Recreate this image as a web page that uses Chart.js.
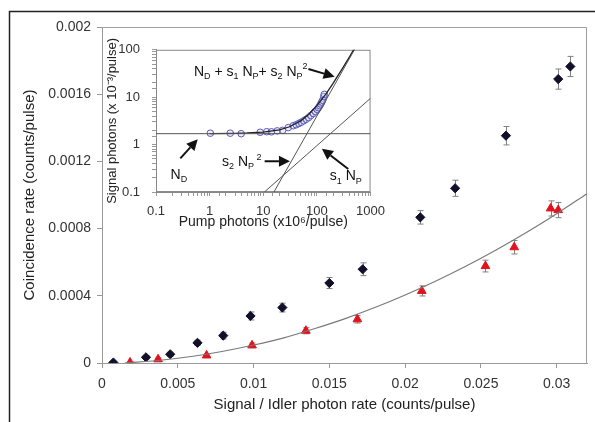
<!DOCTYPE html>
<html><head><meta charset="utf-8">
<script src="https://cdn.jsdelivr.net/npm/chart.js@4/dist/chart.umd.min.js"></script>
<style>
html,body{margin:0;padding:0;background:#fff;}
#wrap{position:relative;width:595px;height:422px;overflow:hidden;}
#main{position:absolute;left:0;top:0;}
#inset{position:absolute;left:103px;top:30px;}
</style></head>
<body><div id="wrap"><canvas id="main" width="595" height="422"></canvas><canvas id="inset" width="290" height="205"></canvas></div>
<script>
// ---------- main chart data ----------
const blackX = [0.00075, 0.0029, 0.0045, 0.0063, 0.0080, 0.0098, 0.0119, 0.0150, 0.0172, 0.0210, 0.0233, 0.02665, 0.0301, 0.0309];
const blackY = [0.000003, 0.000034, 0.000052, 0.000120, 0.000163, 0.000280, 0.000330, 0.000476, 0.000558, 0.000867, 0.00104, 0.001353, 0.00169, 0.001765];
const blackErr = [0.000008, 0.00001, 0.000012, 0.000016, 0.00002, 0.000024, 0.000026, 0.000033, 0.000038, 0.00004, 0.000048, 0.000055, 0.00006, 0.00006];
const redX = [0.00185, 0.0037, 0.0069, 0.0099, 0.01345, 0.01685, 0.0211, 0.0253, 0.0272, 0.0296, 0.0301];
const redY = [0.000003, 0.000022, 0.000045, 0.000105, 0.000192, 0.000260, 0.000429, 0.000577, 0.000689, 0.00092, 0.00091];
const redErr = [0.000005, 0.000008, 0.00001, 0.000014, 0.000018, 0.000022, 0.00003, 0.000035, 0.00004, 0.000045, 0.000045];
const fitX = [0.0015, 0.004, 0.006, 0.008, 0.010, 0.012, 0.014, 0.016, 0.018, 0.020, 0.022, 0.024, 0.026, 0.028, 0.030, 0.032, 0.0322];
const fitY = [0, 0.000018, 0.00004, 0.00007, 0.000107, 0.00015, 0.000204, 0.000263, 0.00033, 0.000405, 0.000487, 0.000576, 0.000673, 0.000777, 0.000889, 0.001008, 0.00102];
const xTickVals = [0, 0.005, 0.01, 0.015, 0.02, 0.025, 0.03];
const xTickLabels = ['0', '0.005', '0.01', '0.015', '0.02', '0.025', '0.03'];
const yTickVals = [0, 0.0004, 0.0008, 0.0012, 0.0016, 0.002];
const yTickLabels = ['0', '0.0004', '0.0008', '0.0012', '0.0016', '0.002'];

// ---------- inset data ----------
const insetNp = [1.03, 2.42, 3.87, 8.75, 11.6, 14.2, 18.2, 23, 29.2, 36.3, 41, 46, 51, 56.6, 63, 69.7, 77, 85.8, 93, 101, 107, 113, 118, 123, 128, 134, 137.5];
const insetSig = [1.74, 1.74, 1.70, 1.82, 1.87, 1.86, 1.95, 2.0, 2.28, 2.5, 2.62, 2.79, 2.95, 3.17, 3.42, 3.7, 4.1, 4.54, 5.0, 5.5, 6.0, 6.6, 7.2, 7.9, 8.6, 10.3, 11.5];
const totalNp = [1, 3, 5, 10, 20, 30, 50, 70, 100, 150, 200, 300, 400, 480, 520];
const totalSig = [1.71, 1.73, 1.76, 1.84, 2.05, 2.35, 3.17, 4.33, 6.65, 12.1, 19.6, 40.6, 69.5, 98.4, 114];
const ndNp = [0.1, 1000];
const ndSig = [1.7, 1.7];
const s1Np = [10.5, 1000];
const s1Sig = [0.1, 9.5];
const s2Np = [15.8, 520];
const s2Sig = [0.1, 108];
const insetXLabels = {'0.1':'0.1', '1':'1', '10':'10', '100':'100', '1000':'1000'};
const insetYLabels = {'0.1':'0.1', '1':'1', '10':'10', '100':'100'};

const FONT = '"Liberation Sans", Arial, Helvetica, sans-serif';
Chart.defaults.font.family = FONT;
const pts = (xs, ys) => xs.map((x, i) => ({x: x, y: ys[i]}));

const framePlugin = {
  id: 'frame',
  beforeDraw(chart) {
    const c = chart.ctx;
    c.save();
    c.fillStyle = '#fff';
    c.fillRect(0, 0, chart.width, chart.height);
    c.strokeStyle = '#222';
    c.lineWidth = 1.5;
    c.beginPath();
    c.moveTo(9.5, chart.height);
    c.lineTo(9.5, 11.5);
    c.lineTo(chart.width, 11.5);
    c.stroke();
    c.restore();
  },
  beforeDatasetsDraw(chart) {
    const a = chart.chartArea, c = chart.ctx;
    c.save();
    c.strokeStyle = '#a0a0a0';
    c.lineWidth = 1;
    c.beginPath();
    c.moveTo(a.left, a.top + 0.5);
    c.lineTo(a.right - 0.5, a.top + 0.5);
    c.lineTo(a.right - 0.5, a.bottom);
    c.stroke();
    c.restore();
  }
};

const errPlugin = {
  id: 'errbars',
  beforeDatasetsDraw(chart) {
    const c = chart.ctx, ys = chart.scales.y;
    c.save();
    c.strokeStyle = '#808080';
    c.lineWidth = 1;
    chart.data.datasets.forEach((ds, i) => {
      if (!ds.errors) return;
      const meta = chart.getDatasetMeta(i);
      meta.data.forEach((el, j) => {
        const v = ds.data[j].y, e = ds.errors[j];
        const x = Math.round(el.x) + 0.5;
        const y1 = ys.getPixelForValue(v + e), y2 = ys.getPixelForValue(Math.max(v - e, 0));
        c.beginPath();
        c.moveTo(x, y1); c.lineTo(x, y2);
        c.moveTo(x - 3, y1); c.lineTo(x + 3, y1);
        c.moveTo(x - 3, y2); c.lineTo(x + 3, y2);
        c.stroke();
      });
    });
    c.restore();
  }
};

new Chart(document.getElementById('main'), {
  type: 'scatter',
  data: {datasets: [
    {label: 'fit', data: pts(fitX, fitY), showLine: true, pointRadius: 0, borderColor: '#7a7a7a', borderWidth: 1.2, tension: 0.3},
    {label: 'Coincidence (total)', data: pts(blackX, blackY), errors: blackErr, pointStyle: 'rectRot', pointRadius: 4.6, backgroundColor: '#10102a', borderColor: '#10102a', borderWidth: 1},
    {label: 'Coincidence (corrected)', data: pts(redX, redY), errors: redErr, pointStyle: 'triangle', pointRadius: 5, backgroundColor: '#e3121b', borderColor: '#e3121b', borderWidth: 1}
  ]},
  options: {
    responsive: false, animation: false, devicePixelRatio: 1,
    layout: {padding: {left: 0, top: 27, right: 8, bottom: 0}},
    plugins: {legend: {display: false}, tooltip: {enabled: false}},
    scales: {
      x: {
        type: 'linear', min: 0, max: 0.032,
        afterBuildTicks: s => { s.ticks = xTickVals.map(v => ({value: v})); },
        afterFit: s => { s.height = 59; },
        ticks: {callback: (v, i) => xTickLabels[i], autoSkip: false, maxRotation: 0, color: '#333', padding: 8, font: {size: 14}},
        grid: {drawOnChartArea: false, tickLength: 5, color: '#999'},
        border: {color: '#999'},
        title: {display: true, text: 'Signal / Idler photon rate (counts/pulse)', color: '#222', font: {size: 15}, padding: {top: 0, bottom: 8}}
      },
      y: {
        type: 'linear', min: 0, max: 0.002,
        afterBuildTicks: s => { s.ticks = yTickVals.map(v => ({value: v})); },
        afterFit: s => { s.width = 102; },
        ticks: {callback: (v, i) => yTickLabels[i], autoSkip: false, color: '#333', padding: 6, font: {size: 14}},
        grid: {drawOnChartArea: false, tickLength: 5, color: '#999'},
        border: {color: '#999'},
        title: {display: true, text: 'Coincidence rate (counts/pulse)', color: '#222', font: {size: 15}, padding: {top: 21, bottom: 0}}
      }
    }
  },
  plugins: [framePlugin, errPlugin]
});

// ---------- inset ----------
function richText(c, x, y, parts, size) {
  let cx = x;
  for (const [t, k] of parts) {
    const fs = k === 'n' ? size : Math.round(size * 0.62);
    c.font = fs + 'px ' + FONT;
    const dy = k === 'sub' ? size * 0.22 : (k === 'sup' ? -size * 0.45 : 0);
    c.fillText(t, cx, y + dy);
    cx += c.measureText(t).width;
  }
}
function arrow(c, x1, y1, x2, y2) {
  const ang = Math.atan2(y2 - y1, x2 - x1), L = 11, W = 5.5;
  const bx = x2 - L * Math.cos(ang), by = y2 - L * Math.sin(ang);
  c.beginPath(); c.moveTo(x1, y1); c.lineTo(bx, by); c.stroke();
  c.beginPath();
  c.moveTo(x2, y2);
  c.lineTo(bx + W * Math.sin(ang), by - W * Math.cos(ang));
  c.lineTo(bx - W * Math.sin(ang), by + W * Math.cos(ang));
  c.closePath(); c.fill();
}
const insetLabels = [
  {x: 0.51, y: 28.4, parts: [['N','n'],['D','sub'],[' + s','n'],['1','sub'],[' N','n'],['P','sub'],['+ s','n'],['2','sub'],[' N','n'],['P','sub'],['2','sup']]},
  {x: 1.70, y: 0.352, parts: [['s','n'],['2','sub'],[' N','n'],['P','sub'],[' 2','sup']]},
  {x: 0.187, y: 0.192, parts: [['N','n'],['D','sub']]},
  {x: 174, y: 0.175, parts: [['s','n'],['1','sub'],[' N','n'],['P','sub']]}
];
const insetArrows = [
  {x1: 69.5, y1: 39.3, x2: 214, y2: 27.1},
  {x1: 10.6, y1: 0.445, x2: 31.4, y2: 0.445},
  {x1: 0.284, y1: 0.512, x2: 0.6, y2: 1.30},
  {x1: 384, y1: 0.306, x2: 124, y2: 0.817}
];
const insetPlugin = {
  id: 'insetDeco',
  beforeDatasetsDraw(chart) {
    const a = chart.chartArea, c = chart.ctx;
    c.save();
    c.strokeStyle = '#8a8a8a';
    c.lineWidth = 1;
    c.strokeRect(a.left + 0.5, a.top + 0.5, a.right - a.left - 1, a.bottom - a.top - 1);
    c.restore();
  },
  afterDatasetsDraw(chart) {
    const c = chart.ctx, xs = chart.scales.x, ys = chart.scales.y;
    c.save();
    c.fillStyle = '#111';
    c.strokeStyle = '#111';
    c.lineWidth = 2;
    c.textBaseline = 'alphabetic';
    c.textAlign = 'left';
    insetLabels.forEach(l => richText(c, xs.getPixelForValue(l.x), ys.getPixelForValue(l.y), l.parts, 14));
    insetArrows.forEach(r => arrow(c, xs.getPixelForValue(r.x1), ys.getPixelForValue(r.y1), xs.getPixelForValue(r.x2), ys.getPixelForValue(r.y2)));
    c.restore();
  }
};
const lineDs = (xs, ys, color, w) => ({data: pts(xs, ys), showLine: true, pointRadius: 0, borderColor: color, borderWidth: w, fill: false});
new Chart(document.getElementById('inset'), {
  type: 'scatter',
  data: {datasets: [
    lineDs(ndNp, ndSig, '#555', 1),
    lineDs(s1Np, s1Sig, '#555', 1),
    lineDs(s2Np, s2Sig, '#555', 1),
    lineDs(totalNp, totalSig, '#222', 1.3),
    {data: pts(insetNp, insetSig), pointStyle: 'circle', pointRadius: 3.3, borderWidth: 1, borderColor: '#5a5ab8', backgroundColor: 'rgba(210,210,245,0.35)'}
  ]},
  options: {
    responsive: false, animation: false, devicePixelRatio: 1,
    layout: {padding: {left: 0, top: 14, right: 16, bottom: 0}},
    plugins: {legend: {display: false}, tooltip: {enabled: false}},
    scales: {
      x: {
        type: 'logarithmic', min: 0.1, max: 1000,
        afterFit: s => { s.height = 43; },
        ticks: {callback: v => insetXLabels[String(v)] || '', autoSkip: false, maxRotation: 0, color: '#333', padding: 8, font: {size: 13}},
        grid: {drawOnChartArea: false, tickLength: 4, color: '#999'},
        border: {color: '#888'},
        title: {display: true, text: 'Pump photons (x10\u2076/pulse)', color: '#222', font: {size: 14}, padding: {top: 0, bottom: 4}}
      },
      y: {
        type: 'logarithmic', min: 0.1, max: 100,
        afterFit: s => { s.width = 53; },
        ticks: {callback: v => insetYLabels[String(v)] || '', autoSkip: false, color: '#333', padding: 12, font: {size: 13}},
        grid: {drawOnChartArea: false, tickLength: 4, color: '#999'},
        border: {color: '#888'},
        title: {display: true, text: 'Signal photons (x 10\u207B\u00B3/pulse)', color: '#222', font: {size: 13}, padding: {top: 2, bottom: 0}}
      }
    }
  },
  plugins: [insetPlugin]
});
</script>
</body></html>
